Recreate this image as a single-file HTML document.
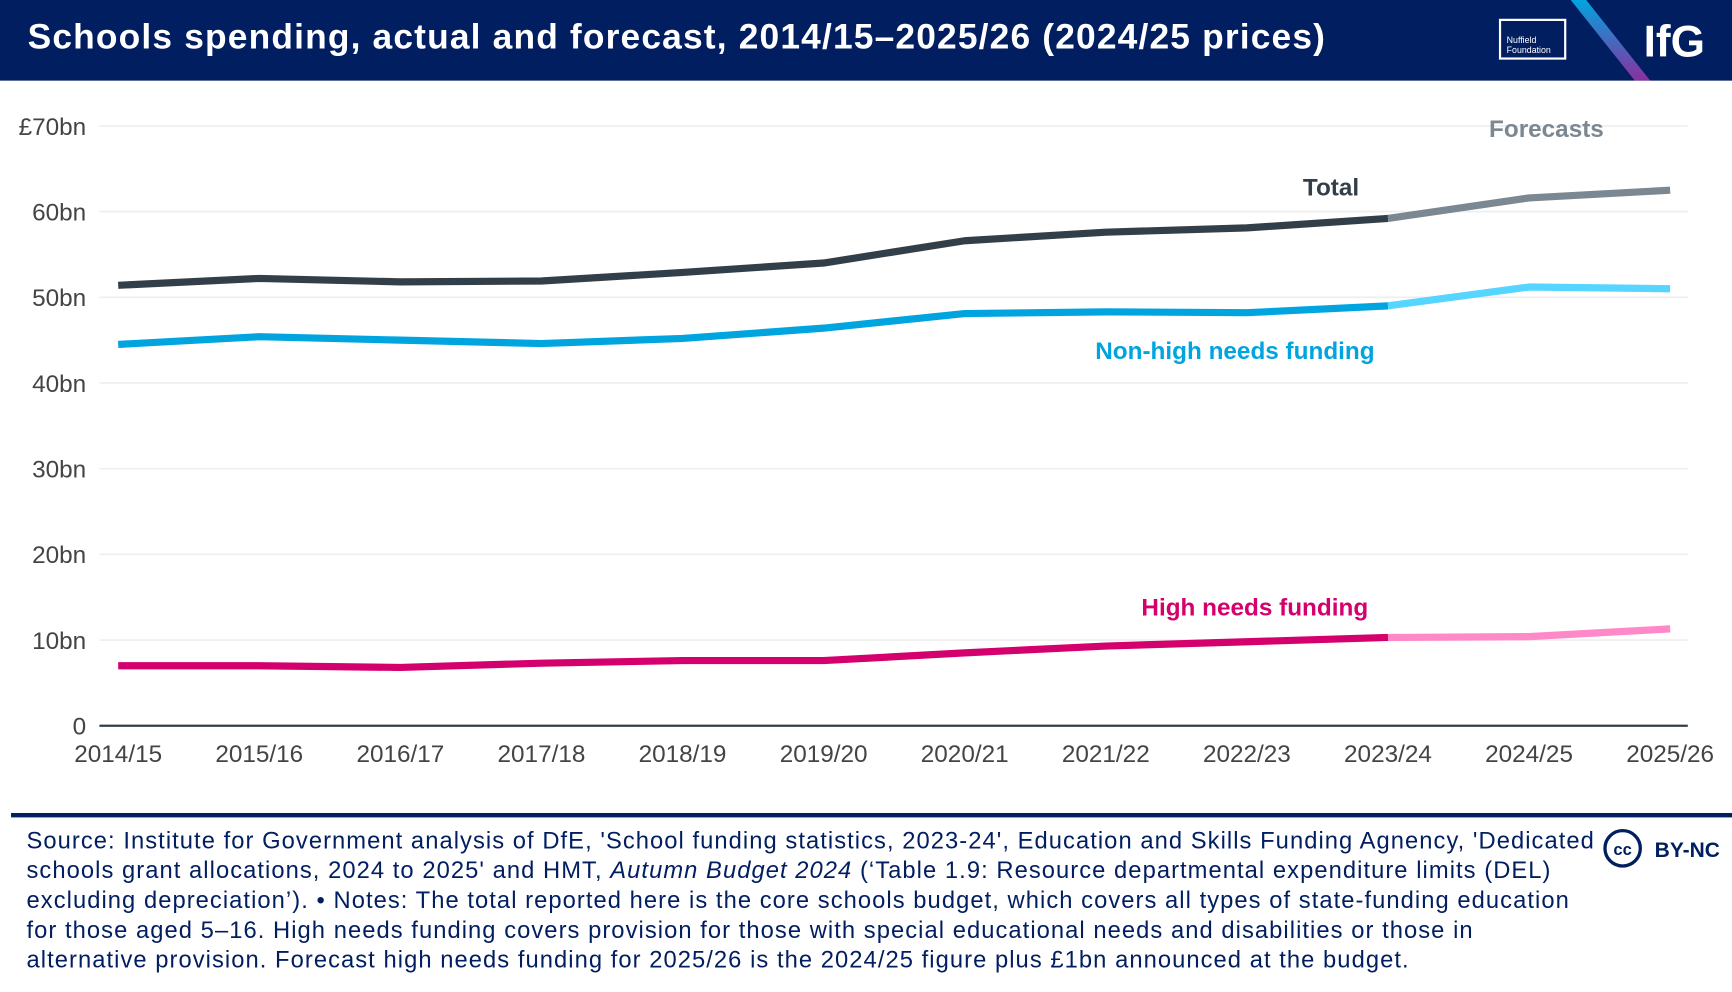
<!DOCTYPE html>
<html><head><meta charset="utf-8"><style>
html,body{margin:0;padding:0;background:#fff;}
body{width:1732px;height:992px;overflow:hidden;}
#wrap{width:1568px;height:898px;transform:scale(1.10459);transform-origin:0 0;position:relative;font-family:"Liberation Sans",sans-serif;}
#header{position:absolute;left:0;top:0;width:1568px;height:73px;background:#001e60;}
#title{position:absolute;left:25px;top:15px;color:#fff;font-weight:bold;font-size:32px;letter-spacing:1.05px;white-space:nowrap;}
#footer{position:absolute;left:24px;top:748px;width:1440px;color:#001e60;font-size:21.5px;line-height:27px;letter-spacing:0.95px;white-space:nowrap;}
</style></head><body>
<div id="wrap">
<div id="header">
<div id="title">Schools spending, actual and forecast, 2014/15–2025/26 (2024/25 prices)</div>
<svg width="1568" height="73" style="position:absolute;left:0;top:0">
<defs><linearGradient id="sl" x1="0" y1="0" x2="0" y2="1"><stop offset="0" stop-color="#00a5e0"/><stop offset="1" stop-color="#8a2f9e"/></linearGradient></defs>
<g>
<rect x="1358" y="18" width="59" height="35" fill="none" stroke="#fff" stroke-width="2"/>
<text x="1364" y="39" fill="#fff" font-size="8" font-family="Liberation Sans">Nuffield</text>
<text x="1364" y="48" fill="#fff" font-size="8" font-family="Liberation Sans">Foundation</text>
</g>
<polygon points="1422,0 1436,0 1494,73 1480,73" fill="url(#sl)"/>
<text x="1488" y="51" fill="#fff" font-size="40" font-weight="bold" font-family="Liberation Sans">IfG</text>
</svg>
</div>
<svg id="chart" width="1568" height="730" style="position:absolute;left:0;top:0"></svg>
<div style="position:absolute;left:10px;top:736px;width:1558px;height:4px;background:#001e60"></div>
<div id="footer">Source: Institute for Government analysis of DfE, 'School funding statistics, 2023-24', Education and Skills Funding Agnency, 'Dedicated<br>schools grant allocations, 2024 to 2025' and HMT, <i>Autumn Budget 2024</i> (‘Table 1.9: Resource departmental expenditure limits (DEL)<br>excluding depreciation’). • Notes: The total reported here is the core schools budget, which covers all types of state-funding education<br>for those aged 5–16. High needs funding covers provision for those with special educational needs and disabilities or those in<br>alternative provision. Forecast high needs funding for 2025/26 is the 2024/25 figure plus £1bn announced at the budget.</div>
<svg width="120" height="40" style="position:absolute;left:1450px;top:749px">
<circle cx="19" cy="19" r="16" fill="#fff" stroke="#001e60" stroke-width="3"/>
<text x="19" y="25" text-anchor="middle" font-size="15" font-weight="bold" fill="#001e60" font-family="Liberation Sans">cc</text>
<text x="48" y="27" font-size="19" font-weight="bold" fill="#001e60" font-family="Liberation Sans">BY-NC</text>
</svg>
</div>
<script>
const categories=["2014/15","2015/16","2016/17","2017/18","2018/19","2019/20","2020/21","2021/22","2022/23","2023/24","2024/25","2025/26"];
const totalValues=[51.4,52.2,51.8,51.9,52.9,54.0,56.6,57.6,58.1,59.2,61.6,62.5];
const nonHighValues=[44.5,45.4,45.0,44.6,45.2,46.4,48.1,48.3,48.2,49.0,51.2,51.0];
const highValues=[7.0,7.0,6.8,7.3,7.6,7.6,8.5,9.3,9.8,10.3,10.4,11.3];
const yTicks=[0,10,20,30,40,50,60,70];
const yTickLabels=["0","10bn","20bn","30bn","40bn","50bn","60bn","£70bn"];
const forecastStart=9;
const NS="http://www.w3.org/2000/svg";
const svg=document.getElementById("chart");
const X0=107,X1=1512,Y0=657,Y1=114,VMAX=70;
function xs(i){return X0+(X1-X0)*i/(categories.length-1);}
function ys(v){return Y0-(Y0-Y1)*v/VMAX;}
function mk(tag,attrs){const e=document.createElementNS(NS,tag);for(const k in attrs)e.setAttribute(k,attrs[k]);svg.appendChild(e);return e;}
yTicks.forEach((t,i)=>{
  if(t!==0){const g=mk("line",{x1:90,x2:1528,y1:ys(t),y2:ys(t),stroke:"#eeeeee","stroke-width":1.5});
  
  }
  const l=mk("text",{x:78,y:ys(t)+8,"text-anchor":"end","font-size":22,fill:"#444","font-family":"Liberation Sans"});
  l.textContent=yTickLabels[i];
  
  
});
const ax=mk("line",{x1:90,x2:1528,y1:Y0,y2:Y0,stroke:"#333f48","stroke-width":2});


categories.forEach((c,i)=>{
  const t=mk("text",{x:xs(i),y:690,"text-anchor":"middle","font-size":22,fill:"#444","font-family":"Liberation Sans"});
  t.textContent=c;
  
  
});
function series(vals,col,fcol,name){
  const pts=vals.map((v,i)=>xs(i)+","+ys(v));
  const f=mk("polyline",{points:pts.slice(forecastStart).join(" "),fill:"none",stroke:fcol,"stroke-width":6.5,"stroke-linejoin":"round"});
  
  
  const a=mk("polyline",{points:pts.slice(0,forecastStart+1).join(" "),fill:"none",stroke:col,"stroke-width":6.5,"stroke-linejoin":"round"});
  
  
}
series(totalValues,"#333f48","#7b8791","total");
series(nonHighValues,"#00a5e0","#55d5ff","non-high-needs");
series(highValues,"#d4006e","#ff88c8","high-needs");
function lab(txt,x,y,col,name){
  const t=mk("text",{x:x,y:y,"text-anchor":"middle","font-size":22,"font-weight":"bold",fill:col,"font-family":"Liberation Sans"});
  t.textContent=txt;
  
  
}
lab("Forecasts",1400,124,"#7b8791","forecasts-label");
lab("Total",1205,177,"#333f48","total-label");
lab("Non-high needs funding",1118,325,"#00a5e0","non-high-needs-label");
lab("High needs funding",1136,557,"#d4006e","high-needs-label");
</script>
</body></html>
